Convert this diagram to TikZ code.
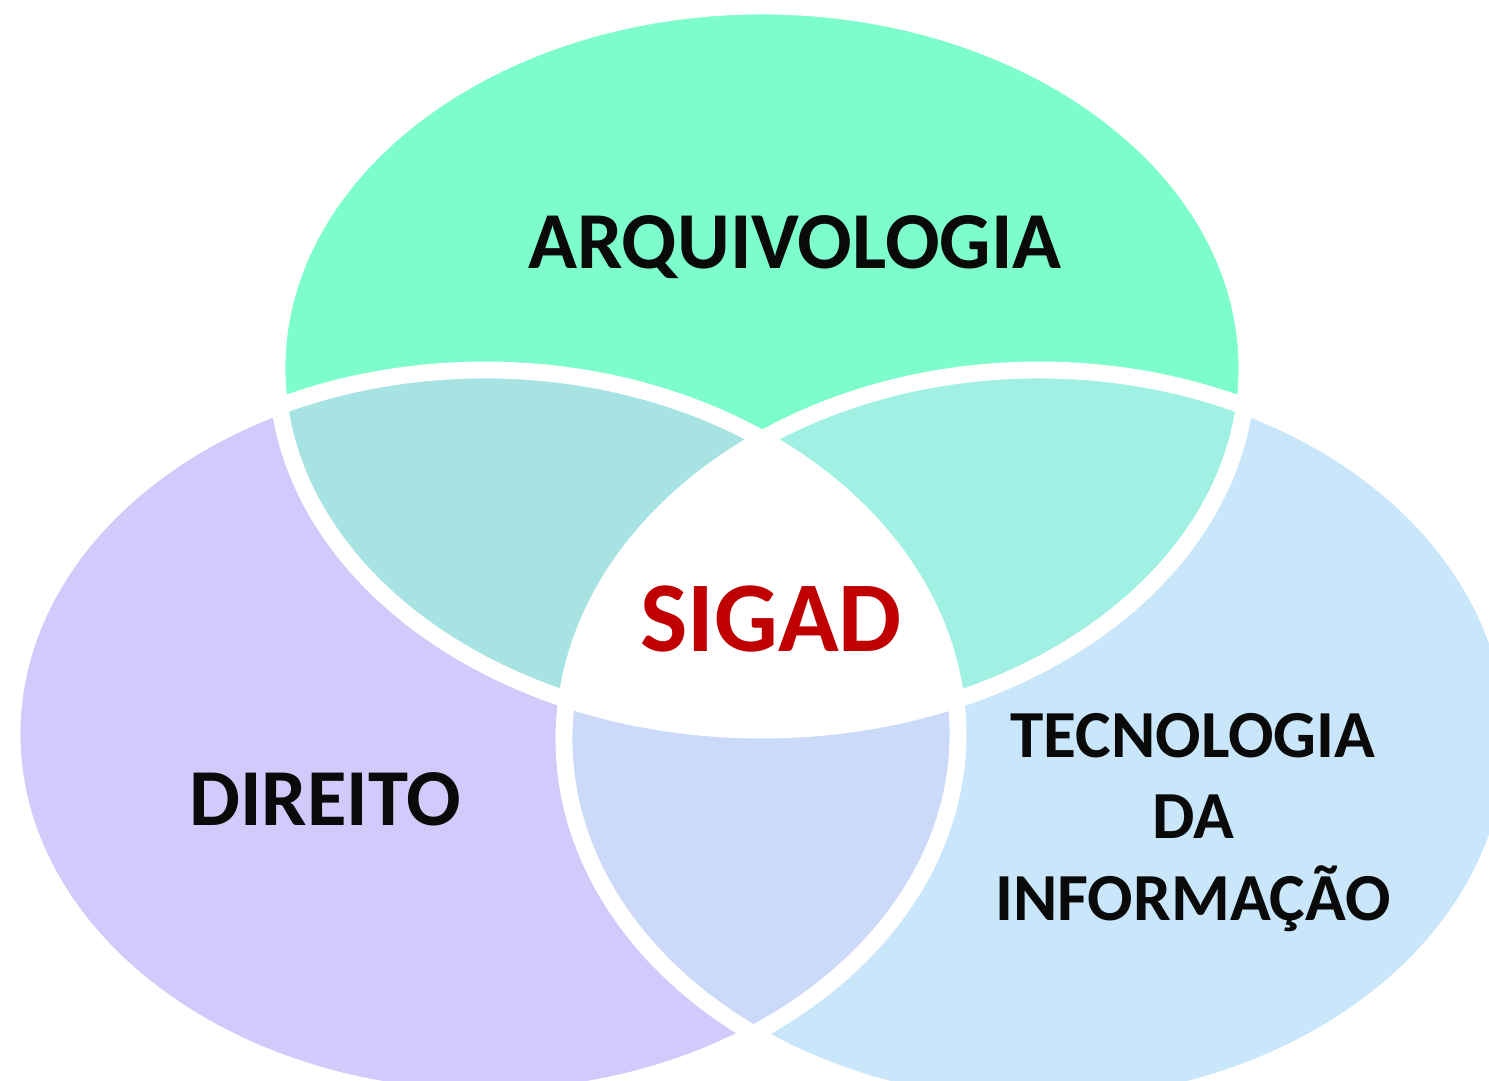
\documentclass[tikz,border=0pt]{standalone}
\usepackage{fontspec}
\setmainfont{Carlito}
\definecolor{topC}{HTML}{7DFDCB}
\definecolor{leftC}{HTML}{D1CBFB}
\definecolor{rightC}{HTML}{C9E6FA}
\definecolor{tlC}{HTML}{A8E3E3}
\definecolor{trC}{HTML}{A0F1E3}
\definecolor{lrC}{HTML}{CCDAF9}
\definecolor{sigadC}{HTML}{C00000}
\definecolor{txtC}{HTML}{0A0A0A}
\tikzset{
  gap/.style={draw=white, line width=9.6pt},
  lbl/.style={anchor=base, text=txtC, font=\fontsize{46}{50}\selectfont\bfseries},
  lblsmall/.style={anchor=base, text=txtC, align=center, font=\fontsize{38.3}{46}\selectfont\bfseries},
  core/.style={anchor=base, text=sigadC, font=\fontsize{57}{60}\selectfont\bfseries}
}
\begin{document}
\begin{tikzpicture}[x=0.02cm,y=-0.02cm]
\useasboundingbox (0,0) rectangle (1489,1080);
\clip (0,0) rectangle (1489,1080);
\fill[white] (0,0) rectangle (1489,1080);
\def\topE{(762,368) ellipse [x radius=485, y radius=362]}
\def\leftE{(485,734) ellipse [x radius=473, y radius=364]}
\def\rightE{(1039,739) ellipse [x radius=475, y radius=369]}
% base fills
\fill[topC] \topE;
\fill[leftC] \leftE;
\fill[rightC] \rightE;
% pairwise overlaps
\begin{scope}\clip \topE; \fill[tlC] \leftE; \end{scope}
\begin{scope}\clip \topE; \fill[trC] \rightE; \end{scope}
\begin{scope}\clip \leftE; \fill[lrC] \rightE; \end{scope}
% triple overlap
\begin{scope}\clip \topE; \clip \leftE; \fill[white] \rightE; \end{scope}
% white gaps
\draw[gap] \topE;
\draw[gap] \leftE;
\draw[gap] \rightE;
% labels
\node[lbl] (arq) at (795,268) {ARQUIVOLOGIA};
\node[lbl] (dir) at (325,825) {DIREITO};
\node[core] (sigad) at (771,651) {SIGAD};
\node[lblsmall] (ti1) at (1193,757) {TECNOLOGIA};
\node[lblsmall] (ti2) at (1193,838) {DA};
\node[lblsmall] (ti3) at (1193,920) {INFORMAÇÃO};
\end{tikzpicture}
\end{document}
